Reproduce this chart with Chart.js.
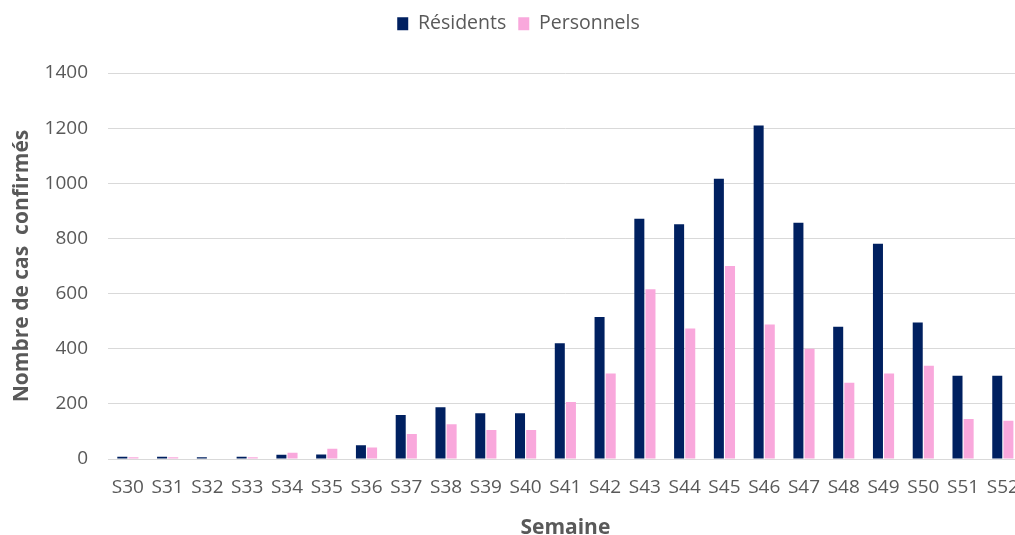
<!DOCTYPE html>
<html>
<head>
<meta charset="utf-8">
<script src="https://cdn.jsdelivr.net/npm/chart.js@4.4.0/dist/chart.umd.min.js"></script>
<style>
  html, body { margin: 0; padding: 0; overflow: hidden; background: #fff; }
  #wrap { width: 1036px; height: 545px; }
</style>
</head>
<body>
<div id="wrap"><canvas id="casChart"></canvas></div>
<script>
var semaines = ["S30","S31","S32","S33","S34","S35","S36","S37","S38","S39","S40","S41",
                "S42","S43","S44","S45","S46","S47","S48","S49","S50","S51","S52"];
var residents = [8, 8, 6, 8, 15, 16, 50, 160, 188, 166, 166, 420,
                 515, 871, 851, 1016, 1210, 857, 480, 781, 495, 302, 302];
var personnels = [6, 6, 0, 6, 23, 37, 42, 91, 126, 105, 105, 207,
                  310, 616, 473, 700, 488, 400, 277, 310, 338, 145, 139];

var grey = "#595959";
var fontName = "Open Sans";

// push the plot down below the legend, like the original
var legendSpace = {
    id: "legendSpace",
    beforeInit: function(chart) {
        var fit = chart.legend.fit;
        chart.legend.fit = function() {
            fit.bind(chart.legend)();
            this.height = 71;
        };
    }
};

var ctx = document.getElementById("casChart");

var casChart = new Chart(ctx, {
    type: "bar",
    data: {
        labels: semaines,
        datasets: [{
            label: "Résidents",
            data: residents,
            backgroundColor: "#002060"
        }, {
            label: "Personnels",
            data: personnels,
            backgroundColor: "#f9a8dc"
        }]
    },
    options: {
        responsive: true,
        maintainAspectRatio: false,
        animation: false,
        datasets: {
            bar: { categoryPercentage: 0.56, barPercentage: 0.9 }
        },
        layout: { padding: { top: 2, right: 4, left: 5, bottom: 0 } },
        plugins: {
            legend: {
                position: "top",
                labels: {
                    boxWidth: 11,
                    boxHeight: 13,
                    padding: 12,
                    color: grey,
                    font: { family: fontName, size: 19.5 }
                }
            },
            tooltip: { enabled: false }
        },
        scales: {
            x: {
                grid: { display: false, drawTicks: false },
                border: { color: "#d9d9d9" },
                ticks: {
                    color: grey,
                    padding: 17,
                    maxRotation: 0,
                    autoSkip: false,
                    font: { family: fontName, size: 19 }
                },
                title: {
                    display: true,
                    text: "Semaine",
                    color: grey,
                    font: { family: fontName, size: 21, weight: "bold" }
                },
                afterFit: function(scale) { scale.height = 86; }
            },
            y: {
                min: 0,
                max: 1400,
                ticks: {
                    stepSize: 200,
                    color: grey,
                    padding: 20,
                    font: { family: fontName, size: 19 },
                    callback: function(v) { return String(v); }
                },
                grid: { color: "#d9d9d9", drawTicks: false },
                border: { display: false },
                title: {
                    display: true,
                    text: "Nombre de cas  confirmés",
                    color: grey,
                    padding: { bottom: 4 },
                    font: { family: fontName, size: 21, weight: "bold" }
                },
                afterFit: function(scale) { scale.width = 103; }
            }
        }
    },
    plugins: [legendSpace]
});
</script>
</body>
</html>
